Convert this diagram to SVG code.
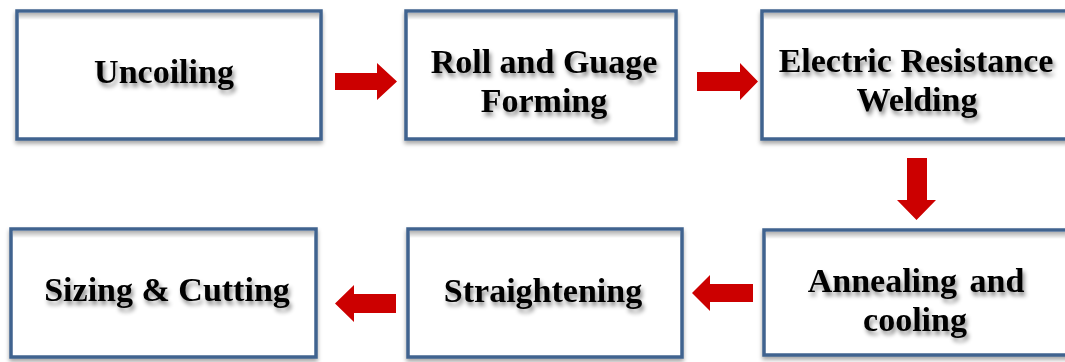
<svg xmlns="http://www.w3.org/2000/svg" width="1065" height="362" viewBox="0 0 1065 362">
<style>
.box{fill:#ffffff;stroke:#41638f;stroke-width:3.5;filter:url(#bs)}
.lbl{font-family:"Liberation Serif","Times New Roman",serif;font-weight:bold;font-size:34px;fill:#000;text-anchor:middle;filter:url(#ts)}
.arr{fill:#cc0000}
</style>
<defs>
<filter id="bs" x="-10%" y="-10%" width="120%" height="130%">
<feDropShadow dx="0" dy="3" stdDeviation="2" flood-color="#000" flood-opacity="0.35"/>
</filter>
<filter id="ts" x="-10%" y="-30%" width="125%" height="170%">
<feDropShadow dx="2" dy="4" stdDeviation="2" flood-color="#000" flood-opacity="0.45"/>
</filter>
<linearGradient id="ig" x1="0" y1="0" x2="0" y2="1">
<stop offset="0" stop-color="#000" stop-opacity="0.3"/>
<stop offset="1" stop-color="#000" stop-opacity="0"/>
</linearGradient>
</defs>
<g id="n1">
<rect class="box" x="17" y="11" width="304" height="128"/>
<rect x="19" y="13" width="300" height="7" fill="url(#ig)"/>
<text class="lbl" x="164" y="83">Uncoiling</text>
</g>
<g id="n2">
<rect class="box" x="406" y="11" width="270" height="128"/>
<rect x="408" y="13" width="266" height="7" fill="url(#ig)"/>
<text class="lbl" x="544" y="73">Roll and Guage</text>
<text class="lbl" x="544" y="112">Forming</text>
</g>
<g id="n3">
<rect class="box" x="762" y="11" width="320" height="128"/>
<rect x="764" y="13" width="316" height="7" fill="url(#ig)"/>
<text class="lbl" x="916" y="72">Electric Resistance</text>
<text class="lbl" x="917" y="111">Welding</text>
</g>
<g id="n4">
<rect class="box" x="764" y="230" width="320" height="125"/>
<rect x="766" y="232" width="316" height="7" fill="url(#ig)"/>
<text class="lbl" x="916" y="292" word-spacing="4">Annealing and</text>
<text class="lbl" x="915" y="331">cooling</text>
</g>
<g id="n5">
<rect class="box" x="408" y="229" width="274" height="128"/>
<rect x="410" y="231" width="270" height="7" fill="url(#ig)"/>
<text class="lbl" x="543" y="302">Straightening</text>
</g>
<g id="n6">
<rect class="box" x="11" y="229" width="305" height="128"/>
<rect x="13" y="231" width="301" height="7" fill="url(#ig)"/>
<text class="lbl" x="167" y="301">Sizing &amp; Cutting</text>
</g>
<g id="connectors">
<polygon class="arr" points="335,73 377,73 377,63 397,81.5 377,100 377,90 335,90"/>
<polygon class="arr" points="697,72 740,72 740,63 758,81.5 740,100 740,91 697,91"/>
<polygon class="arr" points="907,158 927,158 927,200 936,200 916.5,220 897,200 907,200"/>
<polygon class="arr" points="753,284 710,284 710,275 692,293 710,311 710,302 753,302"/>
<polygon class="arr" points="396,294 354,294 354,285 335,303.5 354,322 354,313 396,313"/>
</g>
</svg>
